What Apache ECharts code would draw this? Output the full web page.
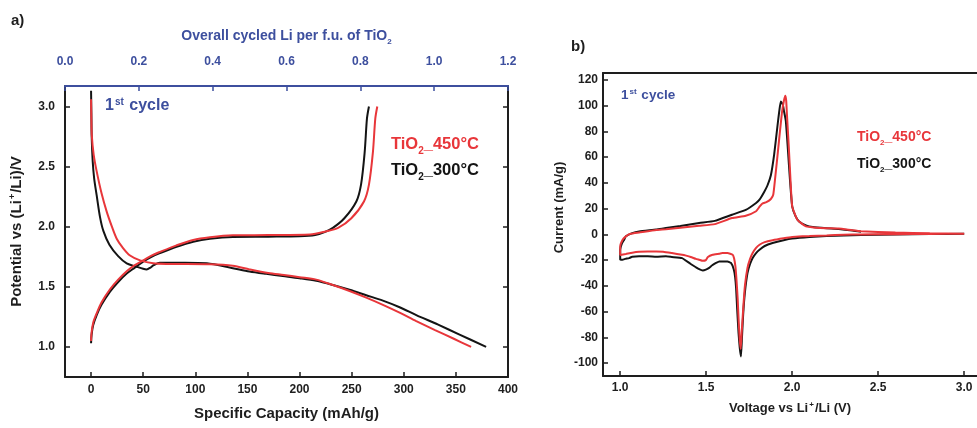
<!DOCTYPE html>
<html>
<head>
<meta charset="utf-8">
<script src="https://cdn.jsdelivr.net/npm/echarts@6/dist/echarts.min.js"></script>
<style>
  html, body { margin: 0; padding: 0; background: #fff; }
  #chart { width: 977px; height: 428px; }
</style>
</head>
<body>
<div id="chart"></div>
<script>
// ---- (a) galvanostatic first cycle: [capacity mAh/g, potential V] ----
const discharge300 = [[0,3.13],[0.3,2.95],[0.6,2.75],[1.6,2.54],[3,2.4],[5.4,2.26],[8.6,2.08],[11.8,1.965],[17.6,1.85],[26,1.755],[34.2,1.695],[43.8,1.667],[50,1.65],[53.3,1.645],[57,1.66],[60,1.68],[66,1.70],[72.5,1.70],[90,1.70],[111,1.695],[136,1.655],[152,1.628],[168,1.608],[184,1.59],[200,1.572],[216,1.55],[232,1.515],[248,1.475],[264,1.43],[280,1.385],[296,1.33],[312,1.265],[333,1.185],[353,1.105],[379,1.0]];
const charge300 = [[0,1.03],[0.5,1.1],[2,1.18],[5.4,1.265],[10,1.35],[18.2,1.46],[26,1.54],[34.2,1.61],[42,1.66],[50,1.71],[58,1.75],[66,1.78],[82,1.833],[98,1.875],[114,1.90],[136,1.915],[170,1.917],[200,1.92],[215,1.93],[224,1.955],[232,1.99],[243,2.07],[254.5,2.21],[259,2.35],[262.5,2.62],[264.7,2.9],[266.6,3.0]];
const discharge450 = [[0,3.06],[0.3,2.9],[0.7,2.76],[2.5,2.6],[5.4,2.46],[10,2.28],[15,2.125],[20,2.0],[24.6,1.90],[30,1.83],[37.4,1.76],[47,1.72],[59.7,1.695],[75,1.69],[114,1.687],[136,1.675],[152,1.645],[170,1.615],[185,1.598],[200,1.58],[216,1.56],[232,1.515],[248,1.465],[264,1.41],[280,1.35],[296,1.285],[312,1.215],[330,1.14],[348,1.068],[364.6,1.0]];
const charge450 = [[0,1.05],[0.5,1.12],[2,1.2],[5.4,1.28],[10,1.37],[18.2,1.48],[26,1.56],[34.2,1.63],[42,1.68],[50,1.72],[58,1.76],[66,1.79],[82,1.845],[98,1.89],[114,1.912],[136,1.928],[170,1.93],[210,1.935],[225,1.96],[237,1.99],[249.7,2.07],[261.8,2.21],[266.6,2.35],[270.4,2.62],[272.7,2.9],[274.6,3.0]];

// ---- (b) cyclic voltammetry first cycle: [voltage V, current mA/g] ----
const cv300 = [[3.0,0.5],[2.8,0.3],[2.6,0],[2.4,-0.5],[2.3,-0.8],[2.2,-1.3],[2.1,-2],[2.0,-3.2],[1.95,-4.5],[1.886,-6.7],[1.84,-9],[1.81,-11.9],[1.79,-14.5],[1.77,-18.3],[1.755,-23],[1.74,-30],[1.725,-45],[1.715,-62],[1.708,-80],[1.702,-94.8],[1.695,-88],[1.688,-76.6],[1.68,-58],[1.674,-42],[1.668,-33],[1.66,-27],[1.644,-22.2],[1.624,-21],[1.595,-21],[1.576,-21],[1.557,-22.2],[1.535,-24],[1.517,-26],[1.498,-27.4],[1.48,-28],[1.459,-27],[1.44,-25.5],[1.41,-23],[1.383,-20.5],[1.36,-18.4],[1.30,-17.5],[1.266,-17],[1.21,-17.3],[1.16,-17],[1.11,-17],[1.07,-17.3],[1.052,-18.4],[1.03,-19],[1.013,-19.7],[1.0,-19.5],[1.0,-12],[1.01,-7],[1.023,-4.1],[1.033,-1.5],[1.07,1.0],[1.11,2.3],[1.21,3.8],[1.266,5],[1.35,6.5],[1.459,8.8],[1.55,10.5],[1.65,15.3],[1.73,19],[1.79,24.4],[1.81,27],[1.837,33],[1.856,38],[1.876,46],[1.895,62],[1.915,85],[1.925,96],[1.934,103.3],[1.945,101],[1.952,96],[1.963,88],[1.975,66],[1.987,42.5],[2.0,21.8],[2.02,14],[2.04,10.1],[2.08,7],[2.12,5.7],[2.2,4.8],[2.27,4.2],[2.35,3],[2.4,2]];
const cv450 = [[3.0,0.5],[2.8,0.4],[2.6,0.2],[2.4,0],[2.3,-0.3],[2.2,-0.8],[2.1,-1.3],[2.06,-1.5],[2.0,-2],[1.95,-3],[1.886,-4.5],[1.84,-6],[1.81,-8],[1.79,-10.5],[1.77,-14.5],[1.755,-19],[1.74,-26],[1.725,-40],[1.715,-58],[1.707,-75],[1.701,-89],[1.695,-82],[1.688,-65],[1.683,-50],[1.676,-35],[1.67,-25],[1.662,-18.5],[1.654,-15.8],[1.624,-14.5],[1.595,-14.5],[1.576,-15],[1.537,-15.8],[1.51,-17.5],[1.498,-20],[1.48,-20.5],[1.459,-19.7],[1.44,-19],[1.41,-17.5],[1.383,-16.5],[1.36,-15.8],[1.30,-14.5],[1.25,-13.5],[1.21,-13.2],[1.16,-13.2],[1.11,-13.5],[1.07,-14.2],[1.033,-15.2],[1.0,-16],[1.0,-9.3],[1.015,-4],[1.033,-1.5],[1.06,0.5],[1.11,1.5],[1.21,3.5],[1.266,4],[1.35,5.2],[1.459,6.7],[1.55,8],[1.65,12.7],[1.73,14.5],[1.79,18],[1.81,21.5],[1.827,24],[1.85,25],[1.876,27.5],[1.89,31],[1.90,42.5],[1.92,68.4],[1.94,94.3],[1.952,104],[1.96,107.8],[1.965,104],[1.969,94.3],[1.98,68.4],[1.99,42.5],[2.0,21.8],[2.03,11.4],[2.08,6.2],[2.14,5.2],[2.2,4.8],[2.27,4.5],[2.35,3.2],[2.4,2.5],[2.6,1.5],[2.8,0.9],[3.0,0.6]];

// ---- tick values ----
const capTicks = [0, 50, 100, 150, 200, 250, 300, 350, 400];
const potTicks = [1.0, 1.5, 2.0, 2.5, 3.0];
const voltTicks = [1.0, 1.5, 2.0, 2.5, 3.0];
const currTicks = [-100, -80, -60, -40, -20, 0, 20, 40, 60, 80, 100, 120];

const FONT = '"Liberation Sans", Arial, sans-serif';
const RED = '#e8363a';
const BLACK = '#141414';
const BLUE = '#3d4f9e';
const AXIS = '#1e1e1e';

const fix1 = v => Number(v).toFixed(1);
const lineAxis = { show: true, onZero: false, lineStyle: { color: AXIS, width: 2 } };
const lbl = (extra) => Object.assign({ color: AXIS, fontFamily: FONT, fontWeight: 'bold', fontSize: 12 }, extra);

// rich-text styles: main run, superscript run, subscript run
function richSet(size, color, colorKey) {
  const base = { fontFamily: FONT, fontWeight: 'bold' };
  const c = {}; c[colorKey] = color;
  const small = Math.round(size * 0.6);
  return {
    m: Object.assign({}, base, c, { fontSize: size, lineHeight: size + 2 }),
    p: Object.assign({}, base, c, { fontSize: small, lineHeight: small, verticalAlign: 'top', padding: [0, 1, 0, 1] }),
    s: Object.assign({}, base, c, { fontSize: small, lineHeight: small, verticalAlign: 'bottom', padding: [0, 0, -2, 0] })
  };
}

function legendText(left, top, color, size, body) {
  return {
    type: 'text', left: left, top: top,
    style: { text: '{m|TiO}{s|2}{m|' + body + '}', rich: richSet(size, color, 'fill') }
  };
}
function cycleText(left, top, size) {
  return {
    type: 'text', left: left, top: top,
    style: { text: '{m|1}{p|st}{m| cycle}', rich: richSet(size, BLUE, 'fill') }
  };
}

const chart = echarts.init(document.getElementById('chart'), null, { renderer: 'canvas' });

chart.setOption({
  backgroundColor: '#ffffff',
  animation: false,
  grid: [
    { left: 65, top: 86, width: 443, height: 291 },
    { left: 603, top: 73, width: 374, height: 303 }
  ],
  xAxis: [
    {
      gridIndex: 0, type: 'value', position: 'bottom', min: -25, max: 400,
      axisLine: lineAxis,
      axisTick: { show: true, inside: true, length: 5, customValues: capTicks, lineStyle: { color: AXIS, width: 1.5 } },
      axisLabel: lbl({ customValues: capTicks, margin: 7 }),
      splitLine: { show: false },
      name: 'Specific Capacity (mAh/g)', nameLocation: 'middle', nameGap: 29,
      nameTextStyle: { color: AXIS, fontFamily: FONT, fontWeight: 'bold', fontSize: 15 }
    },
    {
      gridIndex: 0, type: 'value', position: 'top', min: 0, max: 1.2, interval: 0.2,
      axisLine: { show: true, onZero: false, lineStyle: { color: BLUE, width: 2 } },
      axisTick: { show: true, inside: true, length: 5, lineStyle: { color: BLUE, width: 1.5 } },
      axisLabel: lbl({ color: BLUE, margin: 18, formatter: fix1 }),
      splitLine: { show: false },
      name: '{m|Overall cycled Li per f.u. of TiO}{s|2}', nameLocation: 'middle', nameGap: 42,
      nameTextStyle: { rich: richSet(14, BLUE, 'color') }
    },
    {
      gridIndex: 1, type: 'value', position: 'bottom', min: 0.9, max: 0.9 + 374 / 172,
      axisLine: lineAxis,
      axisTick: { show: true, inside: true, length: 5, customValues: voltTicks, lineStyle: { color: AXIS, width: 1.5 } },
      axisLabel: lbl({ customValues: voltTicks, margin: 6, formatter: fix1 }),
      splitLine: { show: false },
      name: '{m|Voltage vs Li}{p|+}{m|/Li (V)}', nameLocation: 'middle', nameGap: 25,
      nameTextStyle: { rich: richSet(13, AXIS, 'color') }
    },
    {
      gridIndex: 1, type: 'value', position: 'top', min: 0.9, max: 0.9 + 374 / 172,
      axisLine: lineAxis, axisTick: { show: false }, axisLabel: { show: false }, splitLine: { show: false }
    }
  ],
  yAxis: [
    {
      gridIndex: 0, type: 'value', position: 'left', min: 0.75, max: 3.17,
      axisLine: lineAxis,
      axisTick: { show: true, inside: true, length: 5, customValues: potTicks, lineStyle: { color: AXIS, width: 1.5 } },
      axisLabel: lbl({ customValues: potTicks, margin: 10, formatter: fix1 }),
      splitLine: { show: false },
      name: '{m|Potential vs (Li}{p|+}{m|/Li)/V}', nameLocation: 'middle', nameGap: 40, nameRotate: 90,
      nameTextStyle: { rich: richSet(15, AXIS, 'color') }
    },
    {
      gridIndex: 0, type: 'value', position: 'right', min: 0.75, max: 3.17,
      axisLine: lineAxis,
      axisTick: { show: true, inside: true, length: 5, customValues: potTicks, lineStyle: { color: AXIS, width: 1.5 } },
      axisLabel: { show: false }, splitLine: { show: false }
    },
    {
      gridIndex: 1, type: 'value', position: 'left', min: -110, max: 125.4,
      axisLine: lineAxis,
      axisTick: { show: true, inside: true, length: 5, customValues: currTicks, lineStyle: { color: AXIS, width: 1.5 } },
      axisLabel: lbl({ customValues: currTicks, margin: 5 }),
      splitLine: { show: false },
      name: 'Current (mA/g)', nameLocation: 'middle', nameGap: 37, nameRotate: 90,
      nameTextStyle: { color: AXIS, fontFamily: FONT, fontWeight: 'bold', fontSize: 13, padding: [0, 0, 0, 34] }
    }
  ],
  series: [
    { name: 'TiO2_300°C', type: 'line', xAxisIndex: 0, yAxisIndex: 0, data: discharge300, showSymbol: false, smooth: 0.3, lineStyle: { color: BLACK, width: 2 } },
    { name: 'TiO2_300°C', type: 'line', xAxisIndex: 0, yAxisIndex: 0, data: charge300, showSymbol: false, smooth: 0.3, lineStyle: { color: BLACK, width: 2 } },
    { name: 'TiO2_450°C', type: 'line', xAxisIndex: 0, yAxisIndex: 0, data: discharge450, showSymbol: false, smooth: 0.3, lineStyle: { color: RED, width: 2 } },
    { name: 'TiO2_450°C', type: 'line', xAxisIndex: 0, yAxisIndex: 0, data: charge450, showSymbol: false, smooth: 0.3, lineStyle: { color: RED, width: 2 } },
    { name: 'TiO2_300°C', type: 'line', xAxisIndex: 2, yAxisIndex: 2, data: cv300, showSymbol: false, smooth: 0.15, lineStyle: { color: BLACK, width: 2 } },
    { name: 'TiO2_450°C', type: 'line', xAxisIndex: 2, yAxisIndex: 2, data: cv450, showSymbol: false, smooth: 0.15, lineStyle: { color: RED, width: 2 } }
  ],
  graphic: [
    { type: 'text', left: 11, top: 13, style: { text: 'a)', fontFamily: FONT, fontWeight: 'bold', fontSize: 15, fill: AXIS } },
    { type: 'text', left: 571, top: 39, style: { text: 'b)', fontFamily: FONT, fontWeight: 'bold', fontSize: 15, fill: AXIS } },
    cycleText(105, 97, 16),
    legendText(391, 136, RED, 16.5, '_450°C'),
    legendText(391, 162, BLACK, 16.5, '_300°C'),
    cycleText(621, 88, 13.5),
    legendText(857, 130, RED, 14, '_450°C'),
    legendText(857, 157, BLACK, 14, '_300°C')
  ]
});
</script>
</body>
</html>
